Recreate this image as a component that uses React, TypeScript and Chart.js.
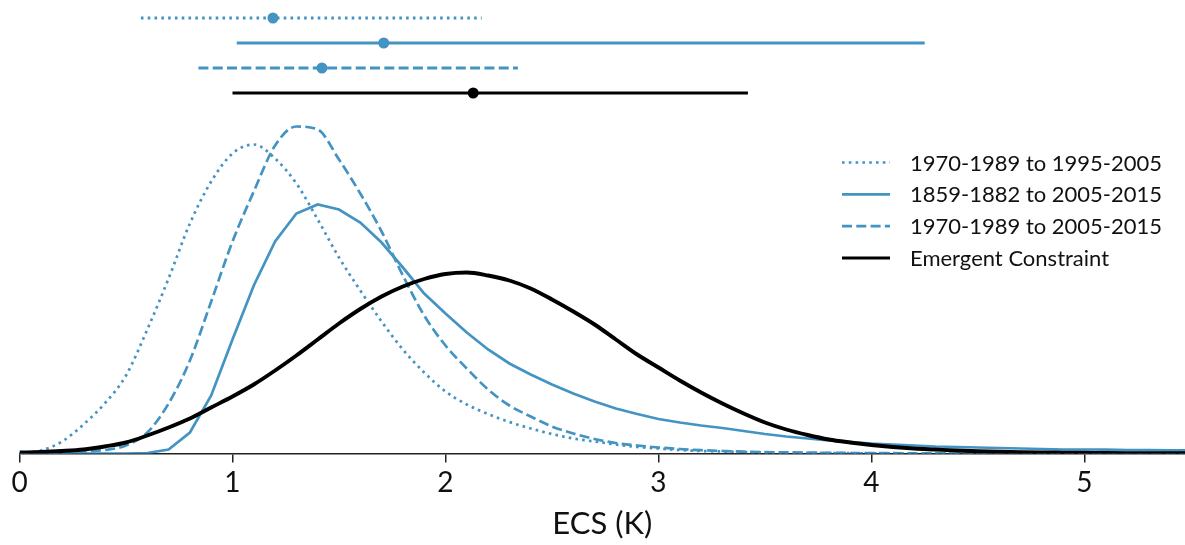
import React, { useEffect, useRef } from "react";
import { Chart, registerables } from "chart.js";

Chart.register(...registerables);

// ECS grid (K)
const xGrid = [
  0, 0.1, 0.2, 0.3, 0.4, 0.5, 0.6, 0.7, 0.8, 0.9,
  1.0, 1.1, 1.2, 1.3, 1.4, 1.5, 1.6, 1.7, 1.8, 1.9,
  2.0, 2.1, 2.2, 2.3, 2.4, 2.5, 2.6, 2.7, 2.8, 2.9,
  3.0, 3.1, 3.2, 3.3, 3.4, 3.5, 3.6, 3.7, 3.8, 3.9,
  4.0, 4.1, 4.2, 4.3, 4.4, 4.5, 4.6, 4.7, 4.8, 4.9,
  5.0, 5.1, 5.2, 5.3, 5.4, 5.5,
];

// relative probability density (arbitrary units)
const density1970to1995 = [
  0.5, 3, 12, 29, 50, 78, 124, 175, 230, 272,
  300, 309, 295, 270, 234, 196, 163, 132, 104, 81,
  62, 49, 39.5, 31.5, 25, 19.5, 15, 12, 9, 6.5,
  5, 3.5, 2.5, 2, 1.5, 1, 0.7, 0.5, 0.4, 0.3,
  0.2, 0.1, 0.1, 0.1, 0, 0, 0, 0, 0, 0,
  0, 0, 0, 0, 0, 0,
];
const density1859to2005 = [
  0, 0, 0, 0, 0, 0, 0.5, 4, 21, 58,
  114, 168, 212, 240, 249, 244, 231, 211, 186, 160,
  140, 121, 104, 90, 79, 69, 60, 52, 45, 39.5,
  34.5, 31, 28, 25.5, 22.5, 19.5, 17, 15, 13, 11.5,
  10, 9, 8, 7, 6.5, 6, 5.5, 5, 4.5, 4,
  4, 3.8, 3.5, 3.3, 3.1, 3,
];
const density1970to2005 = [
  0, 0.3, 0.8, 2, 3.5, 8, 21, 50, 93, 152,
  212, 262, 308, 327, 324, 294, 260, 222, 178, 138,
  108, 85, 64, 48, 37, 27, 20, 14.5, 10.5, 8,
  6, 4.5, 3.3, 2.5, 1.8, 1.4, 1.1, 0.9, 0.7, 0.5,
  0.4, 0.3, 0.2, 0.1, 0, 0, 0, 0, 0, 0,
  0, 0, 0, 0, 0, 0,
];
const densityConstraint = [
  1, 1.5, 2.5, 4, 7, 11, 18, 26, 35, 46,
  57, 69, 83, 98, 114, 130, 144.5, 157, 167, 174.5,
  179.5, 181, 178, 173, 165, 154, 142, 129, 114, 99,
  86, 73, 61, 50, 40, 31, 24, 18.5, 14, 11,
  8.5, 6.5, 5, 4, 3, 2.3, 1.8, 1.4, 1.1, 0.9,
  0.7, 0.5, 0.4, 0.3, 0.2, 0.2,
];

const seriesLabels = [
  "1970-1989 to 1995-2005",
  "1859-1882 to 2005-2015",
  "1970-1989 to 2005-2015",
  "Emergent Constraint",
];
// ranges shown above the curves (low, best, high)
const rangeLow = [0.57, 1.02, 0.84, 1.0];
const rangeBest = [1.19, 1.71, 1.42, 2.13];
const rangeHigh = [2.17, 4.25, 2.34, 3.42];
const rangeRow = [4, 3, 2, 1];

const xTicks = [0, 1, 2, 3, 4, 5];
const xMax = 5.472;

const BLUE = "#4393c3";
const BLACK = "#000000";
const FONT = "Lato, 'Open Sans', sans-serif";

const styles = [
  { color: BLUE, dash: [2.6, 4.2], width: 2.7 },
  { color: BLUE, dash: [], width: 2.7 },
  { color: BLUE, dash: [10, 4.3], width: 2.7 },
  { color: BLACK, dash: [], width: 3.9 },
];

const densities = [density1970to1995, density1859to2005, density1970to2005, densityConstraint];

const legendPlugin = {
  id: "insideLegend",
  afterDatasetsDraw(chart: any, _args: any, opts: any) {
    const ctx = chart.ctx;
    const items = chart.data.datasets.filter((d: any) => d.inLegend);
    ctx.save();
    items.forEach((ds: any, i: number) => {
      const y = opts.top + i * opts.rowGap;
      ctx.beginPath();
      ctx.setLineDash(ds.borderDash || []);
      ctx.lineCap = "butt";
      ctx.lineWidth = ds.legendWidth;
      ctx.strokeStyle = ds.borderColor;
      ctx.moveTo(opts.left, y);
      ctx.lineTo(opts.left + opts.lineLen, y);
      ctx.stroke();
      ctx.setLineDash([]);
      ctx.fillStyle = "#111";
      ctx.font = `${opts.fontSize}px ${FONT}`;
      ctx.textBaseline = "middle";
      ctx.textAlign = "left";
      ctx.fillText(ds.label, opts.left + opts.lineLen + opts.gap, y + 1);
    });
    ctx.restore();
  },
};

export default function App() {
  const ref = useRef<HTMLCanvasElement | null>(null);

  useEffect(() => {
    if (!ref.current) return;
    const curveSets = densities.map((vals, i) => ({
      label: seriesLabels[i],
      inLegend: true,
      legendWidth: i === 3 ? 3 : styles[i].width,
      data: xGrid.map((x, j) => ({ x, y: vals[j] })),
      borderColor: styles[i].color,
      borderDash: styles[i].dash,
      borderWidth: styles[i].width,
      pointRadius: 0,
      tension: 0,
      cubicInterpolationMode: i === 1 ? "default" : "monotone",
      fill: false,
      yAxisID: "y",
      order: 4 - i,
    }));
    const rangeSets = seriesLabels.map((lab, i) => ({
      label: lab + " range",
      inLegend: false,
      data: [
        { x: rangeLow[i], y: rangeRow[i] },
        { x: rangeBest[i], y: rangeRow[i] },
        { x: rangeHigh[i], y: rangeRow[i] },
      ],
      borderColor: styles[i].color,
      borderDash: styles[i].dash,
      borderWidth: 2.8,
      pointRadius: [0, 5.5, 0],
      pointBackgroundColor: styles[i].color,
      pointBorderWidth: 0,
      fill: false,
      yAxisID: "yRows",
      order: 10,
    }));

    const chart = new Chart(ref.current, {
      type: "line",
      data: { datasets: [...curveSets, ...rangeSets] as any },
      options: {
        animation: false,
        responsive: false,
        layout: { padding: { left: 19.5, right: 0, top: 0, bottom: 0 } },
        plugins: {
          legend: { display: false },
          tooltip: { enabled: false },
          insideLegend: { left: 842, top: 162.5, rowGap: 31.8, lineLen: 48, gap: 20, fontSize: 22 },
        } as any,
        scales: {
          x: {
            type: "linear",
            min: 0,
            max: xMax,
            afterBuildTicks: (scale: any) => {
              scale.ticks = xTicks.map((v) => ({ value: v }));
            },
            afterFit: (scale: any) => {
              scale.height = 91.5;
            },
            ticks: {
              includeBounds: false,
              color: "#111",
              font: { family: FONT, size: 28 },
              padding: 4,
              maxRotation: 0,
            },
            grid: {
              display: true,
              drawOnChartArea: false,
              drawTicks: true,
              tickLength: 9,
              color: "#222",
              lineWidth: 1.5,
            },
            border: { display: true, color: "#222", width: 1.5 },
            title: {
              display: true,
              text: "ECS (K)",
              color: "#111",
              font: { family: FONT, size: 31 },
              padding: { top: 0, bottom: 2 },
            },
          },
          y: {
            type: "linear",
            display: false,
            min: 0,
            max: 453.5,
          },
          yRows: {
            type: "linear",
            display: false,
            min: -13.42,
            max: 4.72,
          },
        },
      },
      plugins: [legendPlugin],
    });
    return () => chart.destroy();
  }, []);

  return (
    <div style={{ position: "fixed", left: 0, top: 0, width: 1185, height: 545, background: "#fff" }}>
      <canvas ref={ref} width={1185} height={545} />
    </div>
  );
}
